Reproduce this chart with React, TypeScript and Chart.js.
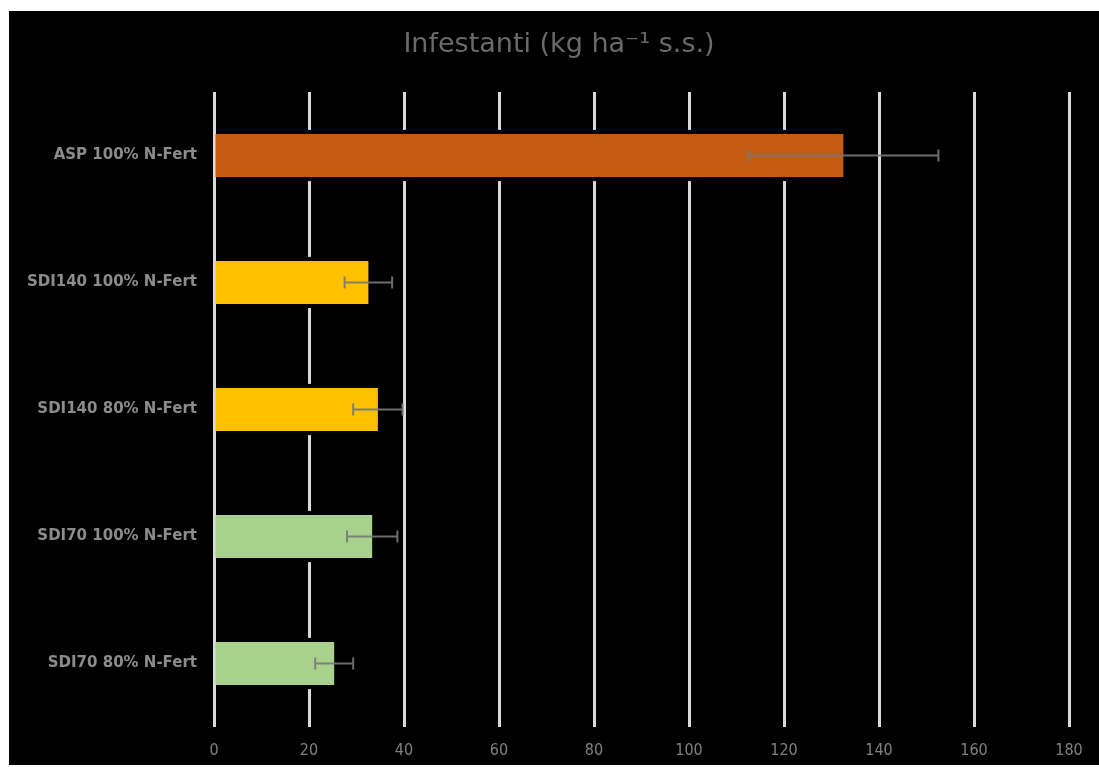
import React, { useEffect, useRef } from "react";
import { Chart, registerables } from "chart.js";

Chart.register(...registerables);

const categories = [
  "ASP 100% N-Fert",
  "SDI140 100% N-Fert",
  "SDI140 80% N-Fert",
  "SDI70 100% N-Fert",
  "SDI70 80% N-Fert",
];
const values = [132.5, 32.5, 34.5, 33.3, 25.3];
const errors = [20, 5, 5.2, 5.3, 4];
const barColors = ["#C55A11", "#FFC000", "#FFC000", "#A9D18E", "#A9D18E"];
const xTicks = [0, 20, 40, 60, 80, 100, 120, 140, 160, 180];
const titleText = "Infestanti (kg ha\u207B\u00B9 s.s.)";

// Chart heading, centred over the whole canvas
const heading = {
  id: "heading",
  afterDraw(chart: any) {
    const ctx = chart.ctx;
    ctx.save();
    ctx.fillStyle = "#6a6a6a";
    ctx.font = "27px 'DejaVu Sans', sans-serif";
    ctx.textAlign = "center";
    ctx.textBaseline = "middle";
    ctx.fillText(titleText, chart.width / 2 + 5, 34);
    ctx.restore();
  },
};

// Dark gap around each bar so the grid lines stop short of it
const barHalo = {
  id: "barHalo",
  beforeDatasetsDraw(chart: any) {
    const ctx = chart.ctx;
    const meta = chart.getDatasetMeta(0);
    ctx.save();
    ctx.fillStyle = "#000";
    meta.data.forEach((bar: any) => {
      const h = bar.height;
      ctx.fillRect(bar.base + 3, bar.y - h / 2 - 4, bar.x - bar.base, h + 8);
    });
    ctx.restore();
  },
};

// Symmetric error bars with end caps
const errorBars = {
  id: "errorBars",
  afterDatasetsDraw(chart: any) {
    const ctx = chart.ctx;
    const xs = chart.scales.x;
    const meta = chart.getDatasetMeta(0);
    ctx.save();
    ctx.strokeStyle = "rgba(120,120,120,0.9)";
    ctx.lineWidth = 2;
    meta.data.forEach((bar: any, i: number) => {
      const lo = xs.getPixelForValue(values[i] - errors[i]);
      const hi = xs.getPixelForValue(values[i] + errors[i]);
      const y = bar.y;
      const cap = 6;
      ctx.beginPath();
      ctx.moveTo(lo, y);
      ctx.lineTo(hi, y);
      ctx.moveTo(lo, y - cap);
      ctx.lineTo(lo, y + cap);
      ctx.moveTo(hi, y - cap);
      ctx.lineTo(hi, y + cap);
      ctx.stroke();
    });
    ctx.restore();
  },
};

export default function App() {
  const canvasRef = useRef<HTMLCanvasElement | null>(null);

  useEffect(() => {
    if (!canvasRef.current) return;
    const chart = new Chart(canvasRef.current, {
      type: "bar",
      data: {
        labels: categories,
        datasets: [
          {
            data: values,
            backgroundColor: barColors,
            borderWidth: 0,
            barPercentage: 0.68,
            categoryPercentage: 0.5,
          },
        ],
      },
      options: {
        indexAxis: "y",
        animation: false,
        responsive: false,
        maintainAspectRatio: false,
        layout: { padding: { left: 0, right: 30, top: 81, bottom: 0 } },
        plugins: {
          legend: { display: false },
          tooltip: { enabled: false },
          title: { display: false },
        },
        scales: {
          x: {
            min: 0,
            max: 180,
            afterBuildTicks(scale: any) {
              scale.ticks = xTicks.map((v) => ({ value: v }));
            },
            afterFit(scale: any) {
              scale.height = 38;
            },
            grid: {
              color: "#d9d9d9",
              lineWidth: 3,
              drawTicks: false,
            },
            border: { display: false },
            ticks: {
              color: "#808080",
              padding: 14,
              font: { family: "'DejaVu Sans Condensed', sans-serif", size: 16 },
            },
          },
          y: {
            afterFit(scale: any) {
              scale.width = 205;
            },
            grid: { display: false, drawTicks: false },
            border: { display: false },
            ticks: {
              color: "#8c8c8c",
              padding: 17,
              font: { family: "'DejaVu Sans', sans-serif", size: 15, weight: "bold" },
            },
          },
        },
      },
      plugins: [heading, barHalo, errorBars],
    });
    return () => chart.destroy();
  }, []);

  return (
    <div
      style={{
        position: "fixed",
        left: 9,
        top: 11,
        width: 1090,
        height: 754,
        background: "#000",
      }}
    >
      <canvas ref={canvasRef} width={1090} height={754} />
    </div>
  );
}
